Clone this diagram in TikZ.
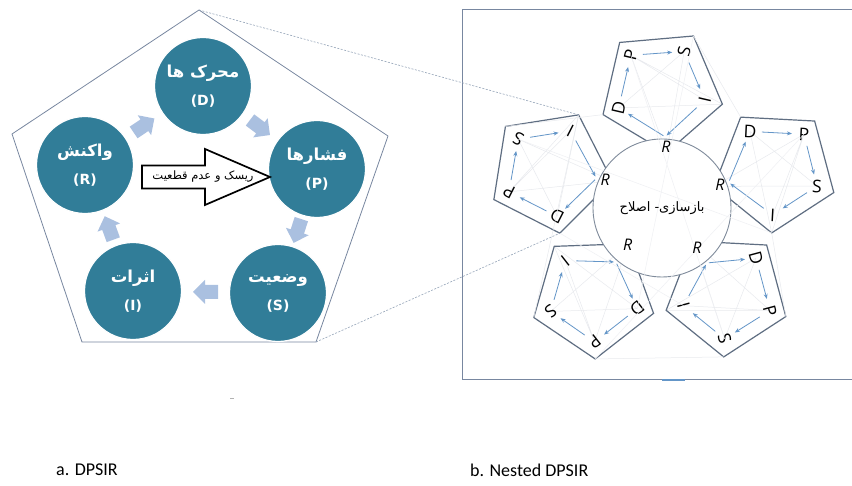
\documentclass[tikz,border=0pt]{standalone}
\usepackage{fontspec}
\setmainfont{Open Sans}
\newfontfamily\farsi[Script=Arabic]{DejaVu Sans}
\newfontfamily\capfont{Carlito}
\TeXXeTstate=1
\usetikzlibrary{arrows.meta,calc}
\definecolor{teal1}{RGB}{49,125,152}
\definecolor{lblue}{RGB}{170,192,224}
\definecolor{pentc}{RGB}{120,135,160}
\definecolor{spentc}{RGB}{95,110,130}
\definecolor{sarrc}{RGB}{100,150,200}
\definecolor{webc}{RGB}{232,234,238}
\definecolor{dashc}{RGB}{150,165,185}
\tikzset{
  circ/.style={circle, fill=teal1, draw=white, line width=1.2pt, minimum size=97pt, inner sep=0pt,
    text=white, align=center, font=\farsi\bfseries\fontsize{14}{16}\selectfont},
  blkfill/.style={fill=lblue},
  lpent/.style={draw=pentc, line width=0.8pt},
  spent/.style={draw=spentc, line width=1.2pt, line join=miter},
  sarr/.style={draw=sarrc, line width=0.8pt, -{Stealth[length=5pt,width=4pt]}},
  web/.style={draw=webc, line width=0.5pt},
  letter/.style={font=\fontsize{17.5}{19}\selectfont, inner sep=0pt},
  rlab/.style={font=\itshape\fontsize{16}{18}\selectfont, inner sep=0pt},
  dashln/.style={draw=dashc, line width=0.6pt, dash pattern=on 2pt off 1.5pt},
  captext/.style={font=\capfont\fontsize{18}{20}\selectfont, inner sep=0pt, anchor=west},
}
\newcommand{\fa}[1]{{\fontsize{16.5}{18}\selectfont\beginR #1\endR}}
\begin{document}
\begin{tikzpicture}[x=1pt,y=1pt]
\useasboundingbox (0,0) rectangle (852,486);
\fill[white] (0,0) rectangle (852,486);

% ---------- left: DPSIR ----------
\coordinate (LT) at (199,476);
\coordinate (LR) at (388,350);
\coordinate (LBR) at (316,144);
\coordinate (LBL) at (82,144);
\coordinate (LL) at (12,352);
\draw[lpent] (LT) -- (LR) -- (LBR) -- (LBL) -- (LL) -- cycle;

\node[circ] (D) at (203,400) {\fa{محرک ها}\\[12pt](D)};
\node[circ] (P) at (317,317) {\fa{فشارها}\\[12pt](P)};
\node[circ] (S) at (278,193) {\fa{وضعیت}\\[12pt](S)};
\node[circ] (I) at (133,195) {\fa{اثرات}\\[12pt](I)};
\node[circ] (R) at (85,321) {\fa{واکنش}\\[12pt](R)};

\foreach \a/\b/\ang/\nm in {D/P/-37/aDP, P/S/-108/aPS, S/I/180/aSI, I/R/110/aIR, R/D/34/aRD}{
  \coordinate (\nm) at ($(\a)!0.5!(\b)$);
  \fill[blkfill, shift={(\nm)}, rotate=\ang]
    (-12.5,-7) -- (0.5,-7) -- (0.5,-12) -- (12.5,0) -- (0.5,12) -- (0.5,7) -- (-12.5,7) -- cycle;
}

\draw[line width=1.7pt, fill=white, line join=miter]
  (142,297.5) -- (205,297.5) -- (205,281) -- (270,309) -- (205,337) -- (205,320.5) -- (142,320.5) -- cycle;
\node[font=\farsi\fontsize{11.5}{13}\selectfont, inner sep=0pt] (risk) at (203,309) {\beginR ریسک و عدم قطعیت\endR};

\draw[gray!60, line width=0.6pt] (230,88) -- (234,88);

% ---------- right: nested DPSIR ----------
\draw[draw=pentc, line width=1pt] (852,476) -- (462,476) -- (462,106) -- (852,106);
\draw[draw=sarrc, line width=1.6pt] (662,106) -- (685,106);

\coordinate (C) at (662,278);

\foreach \n/\cx/\cy/\rot/\ra/\rl in {a/775/316/-3/48/57, b/661/396/77/47/57, c/550/315/153/47/56, d/593/190/218/41/62, e/727/192/285/37/55}{
  \begin{scope}[shift={(\cx,\cy)}, rotate=\rot]
    \coordinate (\n-vR) at (198:63);
    \coordinate (\n-vI) at (270:63);
    \coordinate (\n-vS) at (342:63);
    \coordinate (\n-vP) at (54:63);
    \coordinate (\n-vD) at (126:63);
    \coordinate (\n-D) at (126:46);
    \coordinate (\n-P) at (54:46);
    \coordinate (\n-S) at (342:45);
    \coordinate (\n-I) at (270:45);
    \coordinate (\n-Ra) at (198:\ra);
    \coordinate (\n-Rl) at (198:\rl);
    \draw[web] (\n-P) -- (\n-I) (\n-P) -- (\n-vR) (\n-D) -- (\n-S) (\n-D) -- (\n-vI) (\n-S) -- (\n-vR) (\n-P) -- (\n-vI);
    \draw[spent] (\n-vR) -- (\n-vI) -- (\n-vS) -- (\n-vP) -- (\n-vD) -- cycle;
    \draw[sarr, shorten <=2pt, shorten >=11pt] (\n-Ra) -- (\n-D);
    \draw[sarr, shorten <=12pt, shorten >=12pt] (\n-D) -- (\n-P);
    \draw[sarr, shorten <=12pt, shorten >=12pt] (\n-P) -- (\n-S);
    \draw[sarr, shorten <=12pt, shorten >=12pt] (\n-S) -- (\n-I);
    \draw[sarr, shorten <=11pt, shorten >=2pt] (\n-I) -- (\n-Ra);
    \node[letter, rotate=\rot] (\n-Dl) at (\n-D) {D};
    \node[letter, rotate=\rot] (\n-Pl) at (\n-P) {P};
    \node[letter, rotate=\rot] (\n-Sl) at (\n-S) {S};
    \node[letter, rotate=\rot] (\n-Il) at (\n-I) {I};
  \end{scope}
}

\draw[web] (b-vD) -- (c-vS) (b-vS) -- (a-vD) (a-vI) -- (e-vP) (e-vS) -- (d-vP) (d-vS) -- (c-vI);

\node[circle, fill=white, draw=spentc!80, line width=0.9pt, minimum size=138pt, inner sep=0pt] (Ccirc) at (C) {};

\draw[web, draw=webc!70] (a-P) -- (d-vP) (b-vS) -- (d-D) (c-vD) -- (e-I) (b-P) -- (e-S) (c-S) -- (a-vI);

\node[font=\farsi\fontsize{13}{15}\selectfont, inner sep=0pt] (ctext) at (C) {\beginR بازسازی- اصلاح\endR};

\foreach \n in {a,b,c,d,e}{
  \node[rlab] (\n-Rlab) at (\n-Rl) {R};
}

\draw[dashln] (LT) -- (c-vI);
\draw[dashln] (LBR) -- (c-vD);

\node[captext] (capa) at (56,16) {a. DPSIR};
\node[captext] (capb) at (470,16) {b. Nested DPSIR};
\end{tikzpicture}
\end{document}
